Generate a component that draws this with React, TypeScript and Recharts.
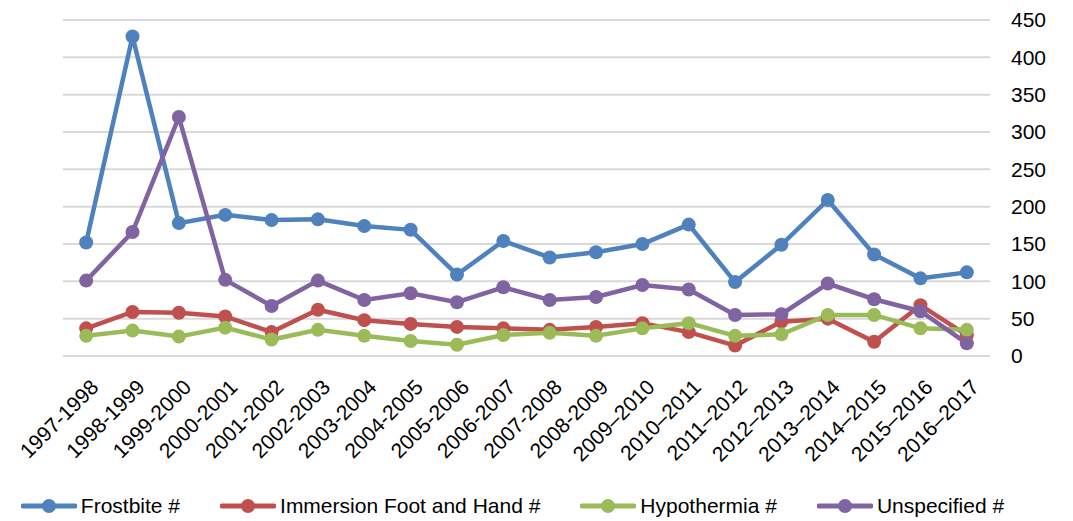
import { CartesianGrid, Legend, Line, LineChart, XAxis, YAxis } from "recharts";

const SEASONS = [
  "1997-1998", "1998-1999", "1999-2000", "2000-2001", "2001-2002", "2002-2003",
  "2003-2004", "2004-2005", "2005-2006", "2006-2007", "2007-2008", "2008-2009",
  "2009–2010", "2010–2011", "2011–2012", "2012–2013", "2013–2014", "2014–2015",
  "2015–2016", "2016–2017",
];

const FROSTBITE = [152, 428, 178, 189, 182, 183, 174, 169, 109, 154, 132, 139, 150, 176, 99, 149, 209, 136, 104, 112];
const IMMERSION = [37, 59, 58, 53, 32, 62, 48, 43, 39, 37, 35, 39, 44, 32, 14, 46, 50, 19, 68, 28];
const HYPOTHERMIA = [27, 34, 26, 38, 22, 35, 27, 20, 15, 28, 31, 27, 37, 44, 27, 29, 55, 55, 37, 35];
const UNSPECIFIED = [101, 166, 320, 102, 67, 101, 75, 84, 72, 92, 75, 79, 95, 89, 55, 56, 97, 76, 60, 17];

const Y_TICKS = [0, 50, 100, 150, 200, 250, 300, 350, 400, 450];

const SERIES = [
  { key: "frostbite", name: "Frostbite #", color: "#4F81BD" },
  { key: "immersion", name: "Immersion Foot and Hand #", color: "#C0504D" },
  { key: "hypothermia", name: "Hypothermia #", color: "#9BBB59" },
  { key: "unspecified", name: "Unspecified #", color: "#8064A2" },
];

const data = SEASONS.map((season, i) => ({
  season,
  frostbite: FROSTBITE[i],
  immersion: IMMERSION[i],
  hypothermia: HYPOTHERMIA[i],
  unspecified: UNSPECIFIED[i],
}));

const FONT = "'Liberation Sans', Arial, sans-serif";

function LegendContent() {
  return (
    <div
      style={{
        display: "flex",
        justifyContent: "center",
        gap: 40,
        height: 30,
        alignItems: "center",
        paddingRight: 48,
        whiteSpace: "nowrap",
      }}
    >
      {SERIES.map((s) => (
        <div key={s.key} style={{ display: "flex", alignItems: "center", gap: 4, flexShrink: 0 }}>
          <svg width={56} height={16}>
            <line x1={2} y1={8} x2={54} y2={8} stroke={s.color} strokeWidth={5} strokeLinecap="round" />
            <circle cx={28} cy={8} r={7} fill={s.color} />
          </svg>
          <span style={{ fontFamily: FONT, fontSize: 21, color: "#000" }}>{s.name}</span>
        </div>
      ))}
    </div>
  );
}

export default function App() {
  return (
    <div style={{ position: "absolute", left: 0, top: 0, background: "#fff" }}>
      <LineChart width={1073} height={521} data={data} margin={{ top: 20, right: 23, left: 63, bottom: 0 }}>
        <CartesianGrid vertical={false} stroke="#d9d9d9" strokeWidth={2} />
        <XAxis
          dataKey="season"
          scale="band"
          axisLine={false}
          tickLine={false}
          interval={0}
          height={135}
          angle={-45}
          textAnchor="end"
          tickSize={0}
          tickMargin={22}
          dx={3}
          tick={{ fontFamily: FONT, fontSize: 21, fill: "#000" }}
        />
        <YAxis
          orientation="right"
          domain={[0, 450]}
          ticks={Y_TICKS}
          axisLine={false}
          tickLine={false}
          tickSize={0}
          tickMargin={21}
          width={60}
          tick={{ fontFamily: FONT, fontSize: 21, fill: "#000", textAnchor: "start" }}
        />
        <Legend
          verticalAlign="bottom"
          content={<LegendContent />}
          wrapperStyle={{ left: 0, width: 1073 }}
        />
        {SERIES.map((s) => (
          <Line
            key={s.key}
            dataKey={s.key}
            name={s.name}
            stroke={s.color}
            strokeWidth={4.5}
            dot={{ r: 7, fill: s.color, stroke: s.color, strokeWidth: 0 }}
            activeDot={false}
            isAnimationActive={false}
          />
        ))}
      </LineChart>
    </div>
  );
}
